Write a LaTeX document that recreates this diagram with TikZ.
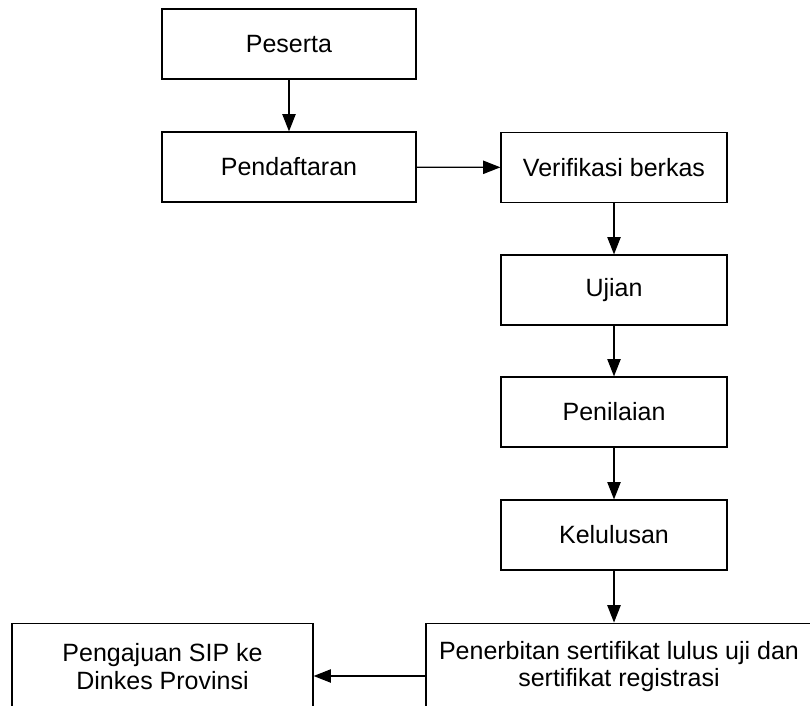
\documentclass[tikz,border=0pt]{standalone}
\usepackage{fontspec}
\setmainfont{Liberation Sans}
\usetikzlibrary{arrows.meta}
\begin{document}
\begin{tikzpicture}[x=0.75pt,y=-0.75pt,
  box/.style={draw=black,line width=0.9pt,rectangle,inner sep=0pt,
    align=center,font=\fontsize{18.75}{20.5}\selectfont},
  arr/.style={draw=black,line width=0.9pt,
    -{Triangle[length=13pt,width=10pt]}}]
  \clip (0,0) rectangle (810,706);
  \fill[white] (0,0) rectangle (810,706);
  % left column
  \node[box,minimum width=190.5pt,minimum height=52.5pt] (pes) at (289,44) {Peserta};
  \node[box,minimum width=190.5pt,minimum height=52.5pt] (pen) at (289,167) {Pendaftaran};
  % right column
  \node[box,minimum width=169.5pt,minimum height=52pt] (ver) at (614,167.5) {Verifikasi berkas};
  \node[box,minimum width=169.5pt,minimum height=52.5pt] (uji) at (614,290) {Ujian};
  \node[box,minimum width=169.5pt,minimum height=52.5pt] (nil) at (614,412) {Penilaian};
  \node[box,minimum width=169.5pt,minimum height=52.5pt] (lul) at (614,535) {Kelulusan};
  % bottom row, running past the lower edge
  \node[box,minimum width=289.5pt,minimum height=65pt] (ser) at (619,666.5)
    {Penerbitan sertifikat lulus uji dan\\sertifikat registrasi};
  \node[box,minimum width=225.75pt,minimum height=65pt] (sip) at (162.5,666.5)
    {Pengajuan SIP ke\\Dinkes Provinsi};
  % flow
  \draw[arr] (pes) -- (pen);
  \draw[arr] (pen) -- (ver);
  \draw[arr] (ver) -- (uji);
  \draw[arr] (uji) -- (nil);
  \draw[arr] (nil) -- (lul);
  \draw[arr] (lul.south) -- (lul.south |- ser.north);
  \coordinate (link) at (0,676);
  \draw[arr] (ser.west |- link) -- (sip.east |- link);
\end{tikzpicture}
\end{document}
